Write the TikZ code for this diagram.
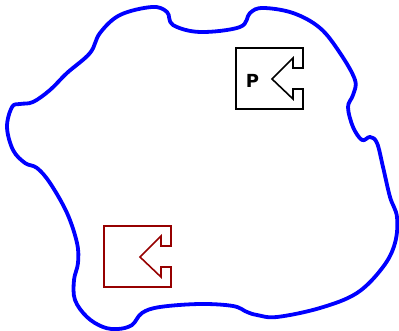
\documentclass[tikz,border=0pt]{standalone}
\usepackage{fontspec}
\setsansfont{DejaVu Sans}
\usepackage{tikz}
\usetikzlibrary{positioning, calc}
\definecolor{regionblue}{RGB}{0, 0, 255}
\definecolor{portred}{RGB}{150, 0, 0}

% outline of a port box, top-left corner at #1
\newcommand{\portoutline}[1]{%
  (#1) -- ++(67,0) -- ++(0,20) -- ++(-10,0) -- ++(0,-10) -- ++(-21,21)
  -- ++(21,20) -- ++(0,-10) -- ++(10,0) -- ++(0,20) -- ++(-67,0) -- cycle}

\begin{document}
\begin{tikzpicture}[
  x=1pt, y=-1pt,
  region/.style={regionblue, line width=3.8pt, line join=round},
  port/.style={line width=1.6pt, line join=miter},
  portlabel/.style={font=\sffamily\bfseries\fontsize{18}{18}\selectfont, inner sep=0pt}
]
\useasboundingbox (0,0) rectangle (399,331);

% the region
\draw[region] plot[smooth cycle, tension=0.6] coordinates {
  (100,33) (120,15) (152,7) (167,12) (173,25) (200,32) (240,27) (250,13)
  (263,8) (293,13) (320,28) (340,53) (355,80) (353,95) (348,107) (353,127)
  (362,140) (370,137) (377,143) (383,167) (390,197) (397,217) (395,243)
  (383,267) (357,293) (320,308) (277,317) (257,315) (247,312) (233,306)
  (200,304) (160,307) (142,313) (132,325) (118,329) (103,327) (87,317)
  (75,300) (74,280) (78,263) (77,243) (67,213) (50,183) (37,168) (25,163)
  (13,150) (7,127) (12,107) (20,104) (33,102) (50,90) (67,73) (90,53)};

% ports
\coordinate (portP) at (236,48);
\coordinate (portQ) at (104,226);
\draw[port, black] \portoutline{portP};
\draw[port, portred] \portoutline{portQ};
\node[portlabel] (labelP) at (252.5,81) {P};
\end{tikzpicture}
\end{document}
